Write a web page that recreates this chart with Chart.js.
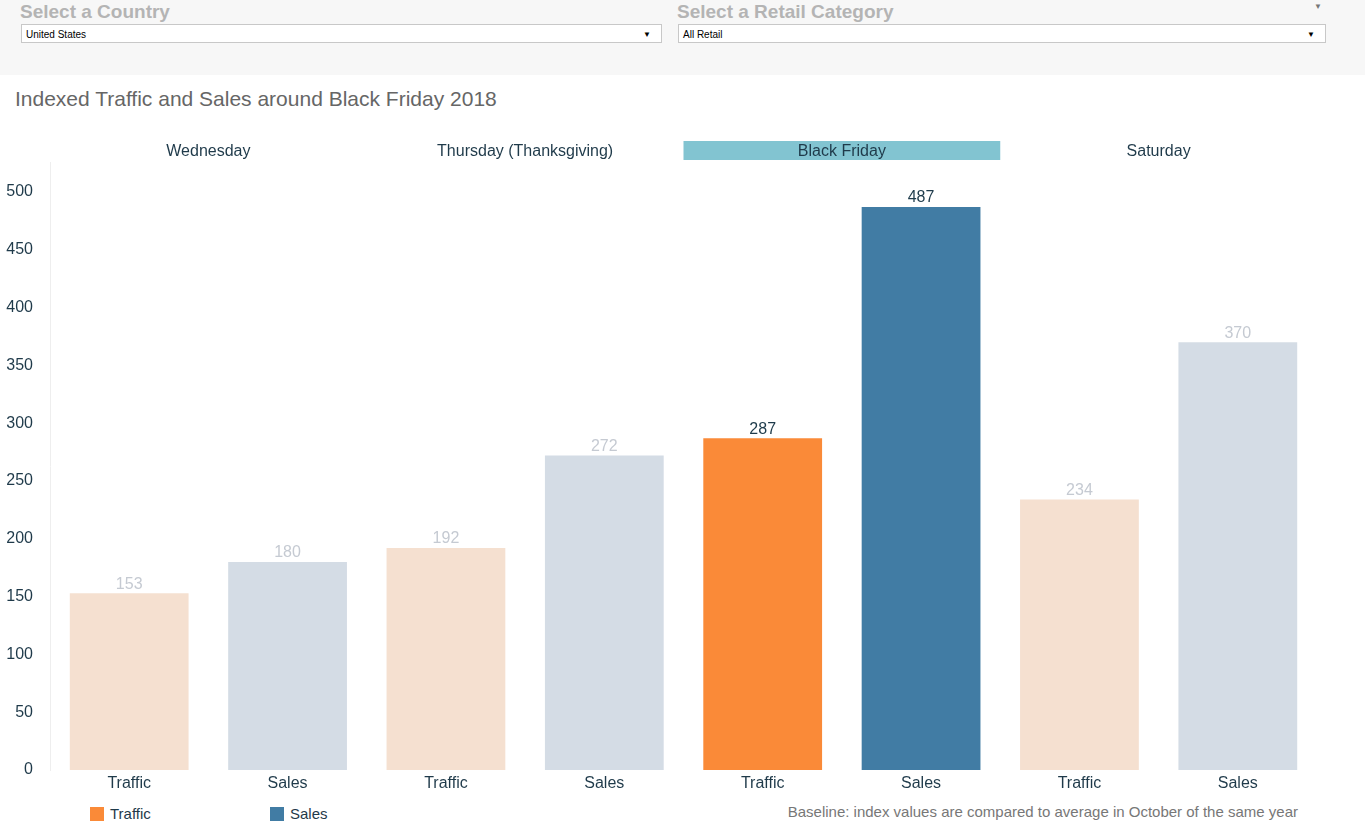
<!DOCTYPE html>
<html>
<head>
<meta charset="utf-8">
<script src="https://cdn.jsdelivr.net/npm/chart.js@4/dist/chart.umd.min.js"></script>
<style>
  body { margin: 0; width: 1365px; height: 835px; background: #fff; font-family: "Liberation Sans", Arial, sans-serif; position: relative; overflow: hidden; }
  .topbar { position: absolute; left: 0; top: 0; width: 1365px; height: 75px; background: #f7f7f7; }
  .flabel { position: absolute; top: 1px; font-size: 19px; font-weight: bold; color: #b4b4b4; }
  .dd { position: absolute; top: 24px; height: 19px; background: #fff; border: 1px solid #c8c8c8; font-size: 10px; color: #000; line-height: 19px; padding-left: 4px; box-sizing: border-box; }
  .dd span { position: absolute; right: 10px; top: 0; font-size: 8px; }
  .title { position: absolute; left: 15px; top: 87px; font-size: 21px; color: #666; }
  #wrap { position: absolute; left: 0; top: 120px; width: 1365px; height: 680px; }
  .legend { position: absolute; top: 805px; font-size: 15px; color: #1f3a4a; }
  .legend i { display: inline-block; width: 14px; height: 14px; vertical-align: -2px; margin-right: 6px; }
  .note { position: absolute; right: 67px; top: 803px; font-size: 15px; color: #777; }
</style>
</head>
<body>
<div class="topbar">
  <div class="flabel" style="left:20px">Select a Country</div>
  <div class="dd" style="left:21px;width:641px">United States<span>&#9660;</span></div>
  <div class="flabel" style="left:677px">Select a Retail Category</div>
  <div class="dd" style="left:678px;width:648px">All Retail<span>&#9660;</span></div>
  <div style="position:absolute;left:1314px;top:2px;font-size:8px;color:#777">&#9660;</div>
</div>
<div class="title">Indexed Traffic and Sales around Black Friday 2018</div>
<div id="wrap"><canvas id="barChart"></canvas></div>
<div class="legend" style="left:90px"><i style="background:#fa8a38"></i>Traffic</div>
<div class="legend" style="left:270px"><i style="background:#417ca4"></i>Sales</div>
<div class="note">Baseline: index values are compared to average in October of the same year</div>

<script>
const days = ['Wednesday', 'Thursday (Thanksgiving)', 'Black Friday', 'Saturday']
const measures = ['Traffic', 'Sales']
const trafficIndex = [153, 192, 287, 234]
const salesIndex = [180, 272, 487, 370]
const highlightDay = 'Black Friday'

const strongColors = { Traffic: '#fa8a38', Sales: '#417ca4' }
const fadedColors = { Traffic: '#f5e0d0', Sales: '#d4dce5' }

// flatten day x measure into one bar series
let labels = [], values = [], barColors = [], labelColors = []
days.forEach((day, i) => {
    measures.forEach(m => {
        const hi = day == highlightDay
        labels.push(m)
        values.push(m == 'Traffic' ? trafficIndex[i] : salesIndex[i])
        barColors.push(hi ? strongColors[m] : fadedColors[m])
        labelColors.push(hi ? '#1e3b4b' : '#c5cad2')
    })
})

// day headers + highlight band above the plot
const dayHeaders = {
    id: 'dayHeaders',
    afterDraw(chart) {
        const ctx = chart.ctx
        const x = chart.scales.x
        const step = x.getPixelForValue(1) - x.getPixelForValue(0)
        ctx.save()
        days.forEach((day, i) => {
            const left = x.getPixelForValue(i * 2) - step / 2
            const right = x.getPixelForValue(i * 2 + 1) + step / 2
            if (day == highlightDay) {
                ctx.fillStyle = '#82c4d1'
                ctx.fillRect(left, 21, right - left, 19)
            }
            ctx.fillStyle = '#1f3a4a'
            ctx.font = '16px "Liberation Sans", Arial, sans-serif'
            ctx.textAlign = 'center'
            ctx.textBaseline = 'middle'
            ctx.fillText(day, (left + right) / 2, 31.5)
        })
        ctx.restore()
    }
}

// value labels on top of the bars
const valueLabels = {
    id: 'valueLabels',
    afterDatasetsDraw(chart) {
        const ctx = chart.ctx
        const meta = chart.getDatasetMeta(0)
        ctx.save()
        ctx.font = '16px "Liberation Sans", Arial, sans-serif'
        ctx.textAlign = 'center'
        ctx.textBaseline = 'bottom'
        meta.data.forEach((bar, i) => {
            ctx.fillStyle = labelColors[i]
            ctx.fillText(values[i], bar.x, bar.y - 1)
        })
        ctx.restore()
    }
}

var barChart = new Chart(
    document.getElementById('barChart'),
    {
        type: 'bar',
        data: {
            labels: labels,
            datasets: [{
                data: values,
                backgroundColor: barColors,
                barPercentage: 0.75,
                categoryPercentage: 1
            }]
        },
        options: {
            responsive: true,
            maintainAspectRatio: false,
            animation: false,
            layout: { padding: { top: 42, right: 48, left: 0, bottom: 0 } },
            scales: {
                x: {
                    grid: { display: false, drawTicks: false },
                    border: { display: false },
                    ticks: { color: '#1f3a4a', font: { size: 16, family: '"Liberation Sans", Arial, sans-serif' }, padding: 4 },
                    afterFit: s => { s.height = 30 }
                },
                y: {
                    min: 0,
                    max: 526,
                    grid: { display: false },
                    border: { display: true, color: '#eeeeee' },
                    ticks: { stepSize: 50, includeBounds: false, color: '#1f3a4a', padding: 9,
                             font: { size: 16, family: '"Liberation Sans", Arial, sans-serif' } },
                    afterFit: s => { s.width = 50 }
                }
            },
            plugins: {
                legend: { display: false },
                tooltip: { enabled: false }
            }
        },
        plugins: [dayHeaders, valueLabels]
    }
);
</script>
</body>
</html>
